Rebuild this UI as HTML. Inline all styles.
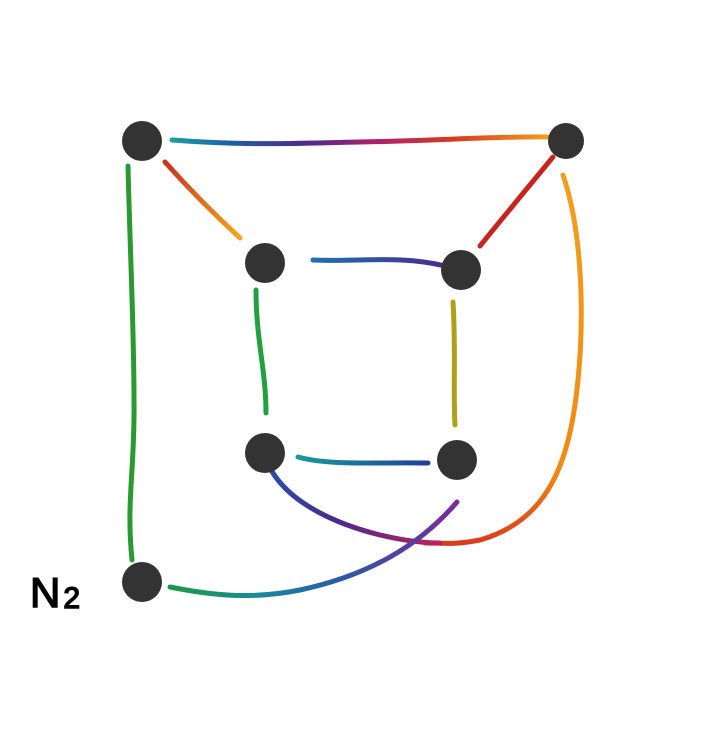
<!DOCTYPE html>
<html><head><meta charset="utf-8"><style>
html,body{margin:0;padding:0;background:#fff;width:710px;height:734px;overflow:hidden}
svg{display:block}
</style></head><body>
<svg width="710" height="734" viewBox="0 0 710 734">
<defs>
<linearGradient id="gTop" x1="172" y1="0" x2="548" y2="0" gradientUnits="userSpaceOnUse">
<stop offset="0" stop-color="#1a9fa0"/><stop offset="0.15" stop-color="#1f5fa8"/><stop offset="0.35" stop-color="#4b2a8c"/><stop offset="0.55" stop-color="#b0206a"/><stop offset="0.75" stop-color="#d83a1e"/><stop offset="1" stop-color="#f0a020"/></linearGradient>
<linearGradient id="gRO" x1="165" y1="162" x2="240" y2="238" gradientUnits="userSpaceOnUse">
<stop offset="0" stop-color="#c8321e"/><stop offset="1" stop-color="#f5a623"/></linearGradient>
<linearGradient id="gBP" x1="313" y1="0" x2="445" y2="0" gradientUnits="userSpaceOnUse">
<stop offset="0" stop-color="#2070b0"/><stop offset="1" stop-color="#4a2a90"/></linearGradient>
<linearGradient id="gTB" x1="298" y1="0" x2="428" y2="0" gradientUnits="userSpaceOnUse">
<stop offset="0" stop-color="#1a9a9a"/><stop offset="1" stop-color="#1f3f9a"/></linearGradient>
<linearGradient id="gPM" x1="270" y1="0" x2="440" y2="0" gradientUnits="userSpaceOnUse">
<stop offset="0" stop-color="#2a4ea8"/><stop offset="0.4" stop-color="#4b2a8c"/><stop offset="1" stop-color="#c0205a"/></linearGradient>
<linearGradient id="gBot" x1="170" y1="0" x2="457" y2="0" gradientUnits="userSpaceOnUse">
<stop offset="0" stop-color="#1a9a40"/><stop offset="0.3" stop-color="#1a8a9a"/><stop offset="0.6" stop-color="#2a5aa8"/><stop offset="1" stop-color="#7a2a9a"/></linearGradient>
<linearGradient id="gOr" x1="0" y1="175" x2="0" y2="545" gradientUnits="userSpaceOnUse">
<stop offset="0" stop-color="#f0a020"/><stop offset="0.8" stop-color="#f08a10"/><stop offset="1" stop-color="#d83a1e"/></linearGradient>
</defs>
<g fill="none" stroke-linecap="round" stroke-width="5">
<path d="M172,140 C250,146 300,143 360,142 C430,141 500,136 548,137" stroke="url(#gTop)"/>
<path d="M128,166 C130,250 134,330 134,400 C135,470 126,500 132,560" stroke="#2a9a30"/>
<path d="M165,162 C190,190 215,215 240,238" stroke="url(#gRO)"/>
<path d="M480,246 C505,215 530,185 553,157" stroke="#c8241e"/>
<path d="M563,175 C585,240 583,330 578,380 C570,460 550,520 480,540 C455,545 440,543 425,543" stroke="url(#gOr)"/>
<path d="M313,260 C360,262 400,255 445,266" stroke="url(#gBP)"/>
<path d="M256,290 C256,340 266,370 266,413" stroke="#22a040"/>
<path d="M453,302 C456,350 453,390 455,425" stroke="#b0a018"/>
<path d="M298,457 C330,466 380,462 428,463" stroke="url(#gTB)"/>
<path d="M270,468 C290,505 340,525 380,535 C405,541 425,543 440,543" stroke="url(#gPM)"/>
<path d="M170,587 C210,595 250,600 300,590 C370,575 420,545 457,502" stroke="url(#gBot)"/>
</g>
<g fill="#333">
<circle cx="142" cy="141" r="20"/>
<circle cx="566" cy="141" r="18"/>
<circle cx="265" cy="263" r="20"/>
<circle cx="461" cy="270" r="20"/>
<circle cx="265" cy="453" r="20"/>
<circle cx="457" cy="460" r="20"/>
<circle cx="142" cy="582" r="20"/>
</g>
<text x="30" y="607" font-family="Liberation Sans, sans-serif" font-size="42" fill="#000" stroke="#000" stroke-width="1.5">N<tspan font-size="30" dx="3" dy="1">2</tspan></text>
</svg>
</body></html>
